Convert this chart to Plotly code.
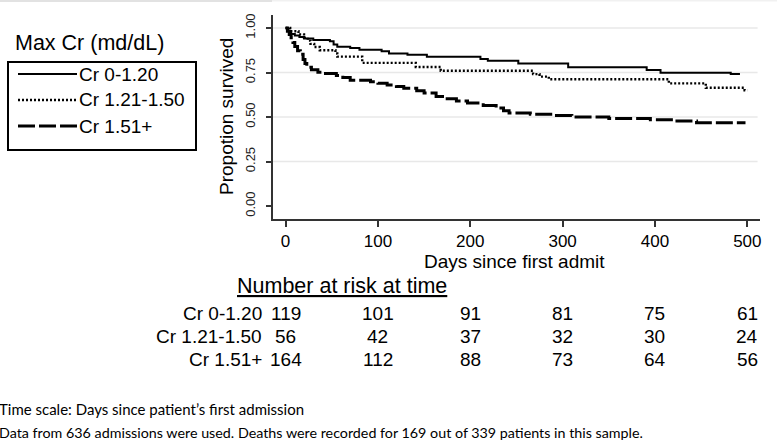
import plotly.graph_objects as go

# ---------------- data ----------------
day_ticks = [0, 100, 200, 300, 400, 500]
y_ticks = [0.0, 0.25, 0.5, 0.75, 1.0]
y_tick_labels = ["0.00", "0.25", "0.50", "0.75", "1.00"]
grid_values = [0.25, 0.5, 0.75, 1.0]

groups = ["Cr 0-1.20", "Cr 1.21-1.50", "Cr 1.51+"]

days_low = [0, 3, 6, 10, 15, 20, 30, 48, 52, 56, 70, 80, 104, 112, 132, 153,
            211, 219, 252, 306, 391, 406, 482, 492]
surv_low = [1.000, 0.983, 0.966, 0.958, 0.950, 0.941, 0.933, 0.926, 0.907, 0.895,
            0.887, 0.878, 0.869, 0.857, 0.850, 0.839, 0.826, 0.816, 0.801, 0.779,
            0.764, 0.749, 0.741, 0.741]

days_mid = [0, 5, 14, 20, 24, 27, 31, 37, 54, 56, 83, 141, 168, 268, 275, 285,
            415, 455, 497, 500]
surv_mid = [1.000, 0.982, 0.964, 0.946, 0.929, 0.911, 0.893, 0.875, 0.857, 0.839,
            0.804, 0.781, 0.760, 0.741, 0.727, 0.712, 0.689, 0.664, 0.650, 0.650]

days_high = [0, 2, 4, 6, 8, 10, 13, 16, 19, 21, 23, 28, 35, 41, 55, 62, 70, 92,
             100, 110, 120, 128, 142, 150, 163, 175, 185, 197, 214, 228, 236, 242,
             265, 290, 310, 350, 395, 420, 445, 498]
surv_high = [1.000, 0.982, 0.963, 0.945, 0.918, 0.896, 0.872, 0.852, 0.823, 0.800,
             0.780, 0.765, 0.752, 0.744, 0.733, 0.722, 0.706, 0.698, 0.690, 0.680,
             0.671, 0.661, 0.648, 0.635, 0.615, 0.603, 0.590, 0.578, 0.565, 0.550,
             0.535, 0.522, 0.515, 0.508, 0.500, 0.492, 0.485, 0.477, 0.468, 0.468]

risk_low = [119, 101, 91, 81, 75, 61]
risk_mid = [56, 42, 37, 32, 30, 24]
risk_high = [164, 112, 88, 73, 64, 56]

legend_title = "Max Cr (md/dL)"
risk_title = "Number at risk at time"
x_title = "Days since first admit"
y_title = "Propotion survived"
notes = ["Time scale: Days since patient\u2019s first admission",
         "Data from 636 admissions were used. Deaths were recorded for 169 out of 339 patients in this sample."]

# ---------------- layout helpers ----------------
W, H = 777, 442
L, R, T, B = 273, 17, 15, 223
PW, PH = W - L - R, H - T - B


def px(xp):
    return (xp - L) / PW


def py(yp):
    return (H - B - yp) / PH


FONT = "Arial, 'Liberation Sans', sans-serif"
dashes = ["solid", "2px,2px", "17px,4px"]
widths = [2.0, 2.4, 3.0]

fig = go.Figure()
series = [(days_low, surv_low), (days_mid, surv_mid), (days_high, surv_high)]
for g, (d, s), dsh, w in zip(groups, series, dashes, widths):
    fig.add_trace(go.Scatter(x=d, y=s, mode="lines", name=g, line_shape="hv",
                             line=dict(color="black", width=w, dash=dsh),
                             showlegend=False, hoverinfo="x+y+name"))

shapes = []
# gridlines
for v in grid_values:
    shapes.append(dict(type="line", xref="paper", yref="y", x0=0, x1=0.995, y0=v, y1=v,
                       line=dict(color="#e8e8e8", width=1.5), layer="below"))
# top strip
shapes.append(dict(type="rect", xref="paper", yref="paper", x0=px(0), x1=px(272), y0=py(0), y1=py(2),
                   fillcolor="#e2e2e2", line=dict(width=0)))
shapes.append(dict(type="rect", xref="paper", yref="paper", x0=px(272), x1=px(777), y0=py(0), y1=py(1.5),
                   fillcolor="#f1f1f1", line=dict(width=0)))
# legend box
shapes.append(dict(type="rect", xref="paper", yref="paper", x0=px(8), x1=px(196), y0=py(62), y1=py(150),
                   line=dict(color="black", width=2), fillcolor="white"))
leg_y = [74, 100, 126]
for yy, dsh, w in zip(leg_y, dashes, widths):
    shapes.append(dict(type="line", xref="paper", yref="paper", x0=px(18), x1=px(77), y0=py(yy), y1=py(yy),
                       line=dict(color="black", width=w, dash=dsh)))

annotations = []
annotations.append(dict(text=legend_title, xref="paper", yref="paper", x=px(13), y=py(43),
                        xanchor="left", yanchor="middle", showarrow=False,
                        font=dict(family=FONT, size=21.5, color="black")))
for yy, g in zip(leg_y, groups):
    annotations.append(dict(text=g, xref="paper", yref="paper", x=px(77), y=py(yy),
                            xanchor="left", yanchor="middle", showarrow=False,
                            font=dict(family=FONT, size=19, color="black")))

# axis titles
annotations.append(dict(text=y_title, xref="paper", yref="paper", x=px(226), y=py(117),
                        xanchor="center", yanchor="middle", textangle=-90, showarrow=False,
                        font=dict(family=FONT, size=19, color="black")))
annotations.append(dict(text=x_title, xref="paper", yref="paper", x=px(514), y=py(261),
                        xanchor="center", yanchor="middle", showarrow=False,
                        font=dict(family=FONT, size=19, color="black")))

# risk table
annotations.append(dict(text="<u>" + risk_title + "</u>", xref="paper", yref="paper", x=px(235), y=py(286),
                        xanchor="left", yanchor="middle", showarrow=False,
                        font=dict(family=FONT, size=21.5, color="black")))
row_y = [313, 336, 359]
for yy, g, vals in zip(row_y, groups, [risk_low, risk_mid, risk_high]):
    annotations.append(dict(text=g, xref="paper", yref="paper", x=px(264), y=py(yy),
                            xanchor="right", yanchor="middle", showarrow=False,
                            font=dict(family=FONT, size=19, color="black")))
    for d, v in zip(day_ticks, vals):
        annotations.append(dict(text=str(v), xref="x", yref="paper", x=d, y=py(yy),
                                xanchor="center", yanchor="middle", showarrow=False,
                                font=dict(family=FONT, size=19, color="black")))

# footnotes
for yy, n, fs in zip([409, 433], notes, [15, 14.3]):
    annotations.append(dict(text=n, xref="paper", yref="paper", x=px(-3), y=py(yy),
                            xanchor="left", yanchor="middle", showarrow=False,
                            font=dict(family="Lato, 'Open Sans', sans-serif", size=fs, color="black")))

fig.update_layout(
    width=W, height=H,
    margin=dict(l=L, r=R, t=T, b=B, autoexpand=False),
    paper_bgcolor="white", plot_bgcolor="white",
    shapes=shapes, annotations=annotations,
    font=dict(family=FONT, color="black"),
    xaxis=dict(range=[-13.6, 513.7], tickvals=day_ticks, ticks="outside", ticklen=6,
               tickwidth=1.5, tickcolor="#333", showline=True, linecolor="#333", linewidth=1.5,
               showgrid=False, zeroline=False, tickfont=dict(size=17, family=FONT)),
    yaxis=dict(range=[-0.073, 1.073], tickvals=y_ticks, ticktext=y_tick_labels, tickangle=-90,
               ticks="outside", ticklen=5, tickwidth=1.5, tickcolor="#333", ticklabelstandoff=6,
               showline=True, linecolor="#333", linewidth=1.5, showgrid=False, zeroline=False,
               tickfont=dict(size=13, family=FONT, color="#222")),
)

fig.write_html("out.html", config={"displayModeBar": False},
               post_script="document.body.style.margin='0';document.body.style.overflow='hidden';")
